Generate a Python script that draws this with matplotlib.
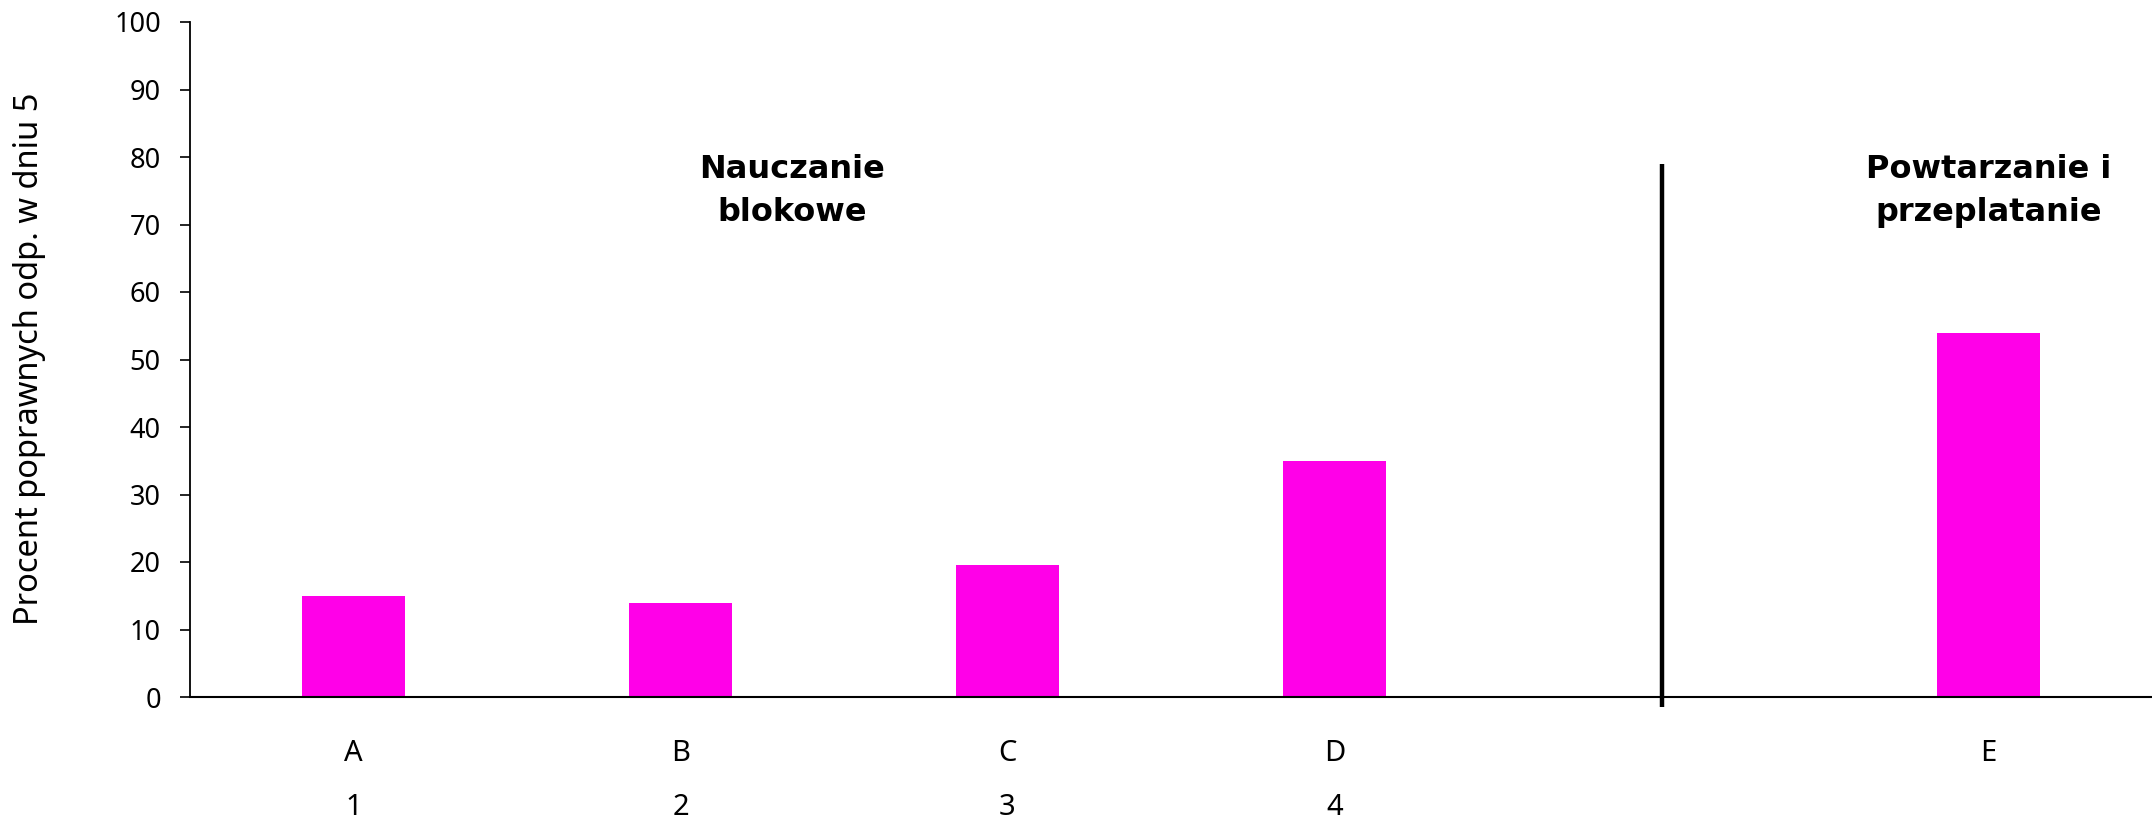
import numpy as np
import matplotlib.pyplot as plt

# data
letters = ['A', 'B', 'C', 'D', '', 'E']
numbers = ['1', '2', '3', '4', '', '']
values = [15, 14, 19.5, 35, np.nan, 54]
divider_pos = 4          # empty slot with the vertical separator
divider_range = [-1.5, 79]
group_labels = ['Nauczanie\nblokowe', 'Powtarzanie i\nprzeplatanie']
group_x = [1.34, 5.0]
group_y = 75

plt.rcParams['font.family'] = ['Noto Sans', 'DejaVu Sans']

fig = plt.figure(figsize=(21.52, 8.23), dpi=100)
ax = fig.add_axes([190 / 2152, 1 - 697 / 823, 1 - 190 / 2152, (697 - 22) / 823])

x = np.arange(len(letters))
ax.bar(x, values, width=0.315, color='#ff00e8')

ax.plot([divider_pos, divider_pos], divider_range, color='black', lw=3.2,
        solid_capstyle='butt', clip_on=False)

for gx, lab in zip(group_x, group_labels):
    ax.text(gx, group_y, lab, ha='center', va='center', fontsize=23,
            fontweight='bold', family='DejaVu Sans', linespacing=1.5)

ax.set_xlim(-0.5, len(letters) - 0.5)
ax.set_ylim(0, 100)
ax.set_yticks(np.arange(0, 101, 10))
ax.tick_params(axis='y', labelsize=19.5, length=7, width=1.2, direction='out', pad=14)
ax.set_xticks([])

trans = ax.get_xaxis_transform()
for i in range(len(letters)):
    ax.text(x[i], -0.083, letters[i], transform=trans, ha='center', va='center', fontsize=21)
    ax.text(x[i], -0.163, numbers[i], transform=trans, ha='center', va='center', fontsize=21)

fig.text(30 / 2152, 1 - 359 / 823, 'Procent poprawnych odp. w dniu 5', rotation=90,
         ha='center', va='center', fontsize=23.5)

ax.spines['top'].set_visible(False)
ax.spines['right'].set_visible(False)
ax.spines['left'].set_linewidth(1.3)
ax.spines['bottom'].set_linewidth(1.5)

fig.savefig('out.png', dpi=100)
